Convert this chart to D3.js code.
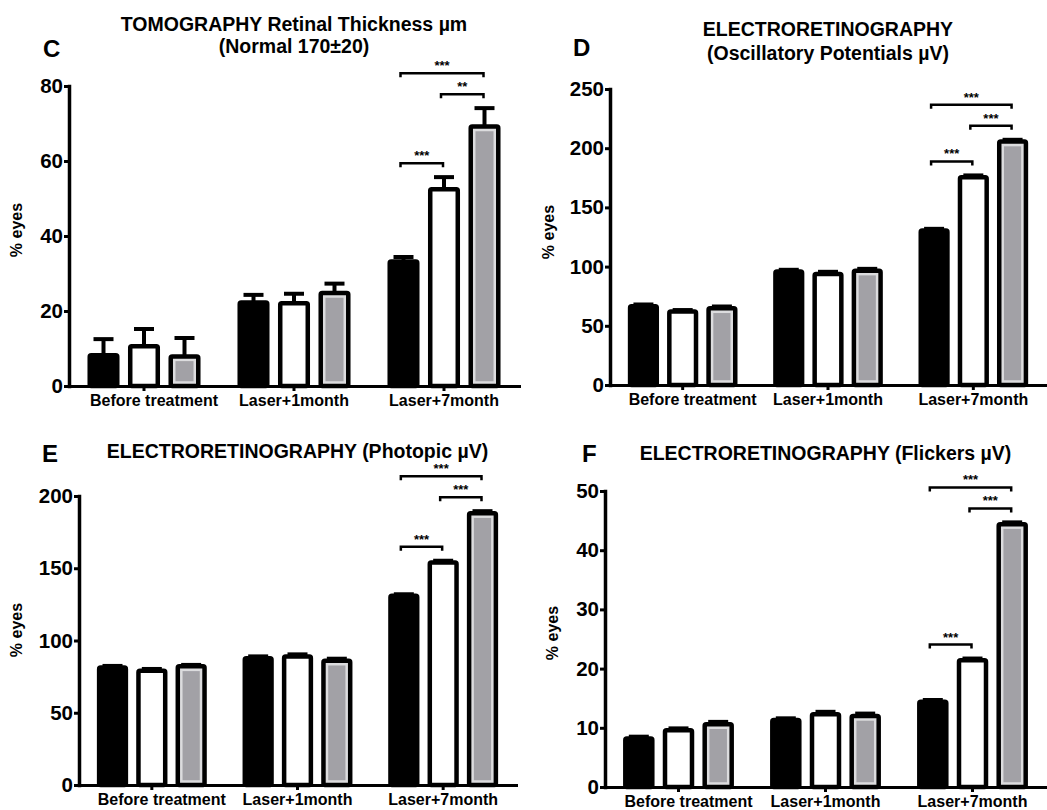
<!DOCTYPE html>
<html>
<head>
<meta charset="utf-8">
<script src="https://cdn.jsdelivr.net/npm/d3@7"></script>
<style>
body { margin: 0; background: #fff; }
svg { display: block; font-family: "Liberation Sans", Arial, sans-serif; font-weight: bold; }
</style>
</head>
<body>
<svg id="chart" width="1047" height="810"></svg>
<script>
const categories = ["Before treatment", "Laser+1month", "Laser+7month"];
const groups = ["g1", "g2", "g3"];
const groupFill = { g1: "#000", g2: "#fff", g3: "#a2a1a6" };

// tomography, retinal thickness
const tomoMean = [[8.2, 10.6, 7.9], [22.3, 22.1, 24.8], [33.2, 52.5, 69.2]];
const tomoSem = [[4.3, 4.6, 4.9], [2.0, 2.5, 2.5], [1.2, 3.2, 4.9]];
const tomoTicks = [0, 20, 40, 60, 80];
const tomoSig = [{ cat: 2, from: 0, to: 1, label: "***" }, { cat: 2, from: 1, to: 2, label: "**" }, { cat: 2, from: 0, to: 2, label: "***" }];

// oscillatory potentials
const oscMean = [[66.5, 62.1, 64.8], [95.8, 93.8, 96.6], [130.4, 175.5, 205.6]];
const oscSem = [[1.5, 1.2, 1.5], [1.5, 1.8, 1.5], [1.5, 1.5, 1.5]];
const oscTicks = [0, 50, 100, 150, 200, 250];
const oscSig = [{ cat: 2, from: 0, to: 1, label: "***" }, { cat: 2, from: 1, to: 2, label: "***" }, { cat: 2, from: 0, to: 2, label: "***" }];

// photopic
const photMean = [[81.4, 79.1, 82.1], [87.8, 89.0, 86.0], [131.0, 154.0, 188.1]];
const photSem = [[1.0, 1.2, 1.0], [1.2, 1.4, 1.4], [1.0, 1.2, 1.4]];
const photTicks = [0, 50, 100, 150, 200];
const photSig = [{ cat: 2, from: 0, to: 1, label: "***" }, { cat: 2, from: 1, to: 2, label: "***" }, { cat: 2, from: 0, to: 2, label: "***" }];

// flickers
const flickMean = [[8.2, 9.6, 10.6], [11.3, 12.3, 12.0], [14.4, 21.4, 44.4]];
const flickSem = [[0.3, 0.3, 0.4], [0.3, 0.4, 0.4], [0.3, 0.3, 0.3]];
const flickTicks = [0, 10, 20, 30, 40, 50];
const flickSig = [{ cat: 2, from: 0, to: 1, label: "***" }, { cat: 2, from: 1, to: 2, label: "***" }, { cat: 2, from: 0, to: 2, label: "***" }];

const panels = [
    { letter: "C", title: ["TOMOGRAPHY Retinal Thickness µm", "(Normal 170±20)"], mean: tomoMean, sem: tomoSem, ticks: tomoTicks, sig: tomoSig,
      left: 69, right: 519, bottom: 386, top: 86, titleY: [31, 53], letterPos: [43, 57], ylab: [16, 230] },
    { letter: "D", title: ["ELECTRORETINOGRAPHY", "(Oscillatory Potentials µV)"], mean: oscMean, sem: oscSem, ticks: oscTicks, sig: oscSig,
      left: 610, right: 1046, bottom: 385, top: 89, titleY: [36, 60], letterPos: [573, 56], ylab: [548, 232] },
    { letter: "E", title: ["ELECTRORETINOGRAPHY (Photopic µV)"], mean: photMean, sem: photSem, ticks: photTicks, sig: photSig,
      left: 79, right: 516, bottom: 785, top: 496, titleY: [458], letterPos: [42, 462], ylab: [16, 630] },
    { letter: "F", title: ["ELECTRORETINOGRAPHY (Flickers µV)"], mean: flickMean, sem: flickSem, ticks: flickTicks, sig: flickSig,
      left: 605, right: 1046, bottom: 787, top: 491, titleY: [460], letterPos: [582, 462], ylab: [552, 633] }
];

const svg = d3.select("#chart");
const STROKE = 4.5;

function drawPanel(p) {
    const g = svg.append("g");
    const y = d3.scaleLinear().domain([0, d3.max(p.ticks)]).range([p.bottom, p.top]);
    const x = d3.scaleBand().domain(categories).range([p.left, p.right]);
    const bw = x.bandwidth();
    const xs = d3.scalePoint().domain(groups).range([-0.27 * bw, 0.27 * bw]);
    const barW = xs.step() * 0.68;
    const cx = (ci, gi) => x(categories[ci]) + bw / 2 + xs(groups[gi]);

    let bars = [];
    p.mean.forEach((row, ci) => row.forEach((v, gi) => bars.push({ ci, gi, v, e: p.sem[ci][gi] })));

    // error bars (upper only)
    let eb = g.append("g").attr("stroke", "#000").attr("stroke-width", 4);
    eb.selectAll("line.stem").data(bars).join("line")
        .attr("x1", d => cx(d.ci, d.gi)).attr("x2", d => cx(d.ci, d.gi))
        .attr("y1", d => y(d.v)).attr("y2", d => y(d.v + d.e));
    eb.selectAll("line.cap").data(bars).join("line")
        .attr("x1", d => cx(d.ci, d.gi) - 10).attr("x2", d => cx(d.ci, d.gi) + 10)
        .attr("y1", d => y(d.v + d.e)).attr("y2", d => y(d.v + d.e));

    // bars
    g.append("g").selectAll("rect").data(bars).join("rect")
        .attr("x", d => cx(d.ci, d.gi) - barW / 2)
        .attr("y", d => y(d.v))
        .attr("width", barW)
        .attr("height", d => y(0) - y(d.v))
        .attr("rx", 1.5)
        .attr("fill", d => d.gi === 2 ? "#dcdcde" : groupFill[groups[d.gi]])
        .attr("stroke", "#000")
        .attr("stroke-width", STROKE);
    let inset = STROKE / 2 + 2.5;
    g.append("g").selectAll("rect").data(bars.filter(d => d.gi === 2)).join("rect")
        .attr("x", d => cx(d.ci, d.gi) - barW / 2 + inset)
        .attr("y", d => y(d.v) + inset)
        .attr("width", barW - 2 * inset)
        .attr("height", d => Math.max(0, y(0) - y(d.v) - 2 * inset))
        .attr("fill", groupFill.g3);

    // axes
    let ya = g.append("g").attr("transform", `translate(${p.left},0)`)
        .call(d3.axisLeft(y).tickValues(p.ticks).tickSize(5).tickSizeOuter(0).tickPadding(1));
    let xa = g.append("g").attr("transform", `translate(0,${p.bottom})`)
        .call(d3.axisBottom(x).tickSize(5).tickSizeOuter(0).tickPadding(4));
    [ya, xa].forEach(a => {
        a.attr("font-family", null);
        a.select(".domain").attr("stroke", "#000").attr("stroke-linecap", "square");
        a.selectAll(".tick line").attr("stroke", "#000").attr("stroke-width", 3);
        a.selectAll(".tick text").attr("fill", "#000");
    });
    ya.select(".domain").attr("stroke-width", 3.5);
    xa.select(".domain").attr("stroke-width", 3);
    ya.attr("font-size", 20.5);
    xa.attr("font-size", 16);
    xa.selectAll(".tick text").attr("dx", (d, i) => i === 0 ? 10 : 0);

    // significance brackets
    const top = (ci, gi) => y(p.mean[ci][gi] + p.sem[ci][gi]) - 2;
    let placed = [];
    p.sig.slice().sort((a, b) => (a.to - a.from) - (b.to - b.from)).forEach(s => {
        let yy = d3.min(d3.range(s.from, s.to + 1), gi => top(s.cat, gi)) - 12;
        placed.filter(b => b.from >= s.from && b.to <= s.to).forEach(b => { yy = Math.min(yy, b.y - 21); });
        placed.push({ ...s, y: yy });
    });
    let br = g.append("g");
    br.selectAll("path").data(placed).join("path")
        .attr("d", d => {
            let x1 = cx(d.cat, d.from) - 3, x2 = cx(d.cat, d.to) - 1;
            return `M${x1},${d.y + 4}V${d.y}H${x2}V${d.y + 4}`;
        })
        .attr("fill", "none").attr("stroke", "#000").attr("stroke-width", 2.5);
    br.selectAll("text").data(placed).join("text")
        .attr("x", d => (cx(d.cat, d.from) + cx(d.cat, d.to)) / 2 - 2)
        .attr("y", d => d.y - 3)
        .attr("text-anchor", "middle")
        .attr("font-size", 13)
        .text(d => d.label);

    // titles and labels
    const midX = (p.left + p.right) / 2;
    g.selectAll("text.title").data(p.title).join("text")
        .attr("class", "title")
        .attr("x", midX)
        .attr("y", (d, i) => p.titleY[i])
        .attr("text-anchor", "middle")
        .attr("font-size", 19.5)
        .text(d => d);
    g.append("text")
        .attr("x", p.letterPos[0]).attr("y", p.letterPos[1])
        .attr("font-size", 24)
        .text(p.letter);
    g.append("text")
        .attr("transform", `translate(${p.ylab[0]},${p.ylab[1]}) rotate(-90)`)
        .attr("text-anchor", "middle")
        .attr("dominant-baseline", "central")
        .attr("font-size", 16)
        .text("% eyes");
}

panels.forEach(drawPanel);
</script>
</body>
</html>
